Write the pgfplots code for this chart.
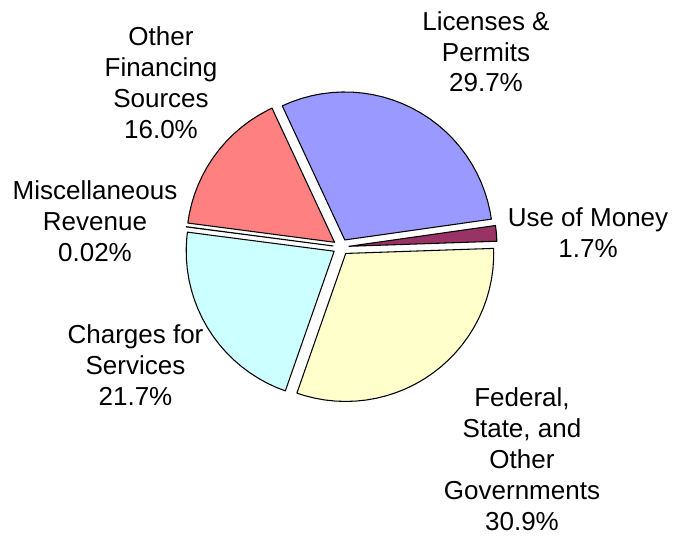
\documentclass[border=0pt]{standalone}
\usepackage{pgfplots}
\pgfplotsset{compat=1.18}
\usepackage{fontspec}
\setmainfont{Liberation Sans}
\definecolor{cLic}{HTML}{9999FF}
\definecolor{cUse}{HTML}{993366}
\definecolor{cFed}{HTML}{FFFFCC}
\definecolor{cChg}{HTML}{CCFFFF}
\definecolor{cMisc}{HTML}{660066}
\definecolor{cOth}{HTML}{FF8080}
\tikzset{lbl/.style={font=\fontsize{19.5}{23.2}\selectfont, align=center, anchor=base, inner sep=0pt}}
\begin{document}
\begin{tikzpicture}
\useasboundingbox (0,0) rectangle (505.5pt,405pt);
\begin{axis}[
  at={(0,0)}, anchor=south west,
  scale only axis, hide axis, clip=false,
  x=0.75pt, y=0.75pt,
  xmin=-341, xmax=333, ymin=-293, ymax=247,
  data cs=polar,
  every axis plot/.append style={draw=black, line width=0.8pt, line join=round},
]
% Licenses & Permits 29.7%
\addplot[fill=cLic, xshift={6pt*cos(61.54)}, yshift={6pt*sin(61.54)}] coordinates {
(0,0) (115,148) (111,148) (107,148) (103,148) (99,148) (95,148) (91,148) (87,148) (83,148) (79,148) (75,148) (71,148) (67,148) (63,148) (59,148) (55,148) (51,148) (47,148) (43,148) (39,148) (35,148) (31,148) (27,148) (23,148) (19,148) (15,148) (11,148) (8.08,148) (0,0)} -- cycle;
% Use of Money 1.7%
\addplot[fill=cUse, xshift={6pt*cos(5.02)}, yshift={6pt*sin(5.02)}] coordinates {
(0,0) (8.08,148) (5,148) (1.96,148) (0,0)} -- cycle;
% Federal, State, and Other Governments 30.9%
\addplot[fill=cFed, xshift={6pt*cos(-53.66)}, yshift={6pt*sin(-53.66)}] coordinates {
(0,0) (1.96,148) (-2,148) (-6,148) (-10,148) (-14,148) (-18,148) (-22,148) (-26,148) (-30,148) (-34,148) (-38,148) (-42,148) (-46,148) (-50,148) (-54,148) (-58,148) (-62,148) (-66,148) (-70,148) (-74,148) (-78,148) (-82,148) (-86,148) (-90,148) (-94,148) (-98,148) (-102,148) (-106,148) (-109.28,148) (0,0)} -- cycle;
% Charges for Services 21.7%
\addplot[fill=cChg, xshift={6pt*cos(-148.34)}, yshift={6pt*sin(-148.34)}] coordinates {
(0,0) (-109.28,148) (-113,148) (-117,148) (-121,148) (-125,148) (-129,148) (-133,148) (-137,148) (-141,148) (-145,148) (-149,148) (-153,148) (-157,148) (-161,148) (-165,148) (-169,148) (-173,148) (-177,148) (-181,148) (-185,148) (-187.4,148) (0,0)} -- cycle;
% Miscellaneous Revenue 0.02%
\addplot[fill=cMisc, xshift={6pt*cos(172.57)}, yshift={6pt*sin(172.57)}] coordinates {
(0,0) (172.6,148) (172.53,148) (0,0)} -- cycle;
% Other Financing Sources 16.0%
\addplot[fill=cOth, xshift={6pt*cos(143.77)}, yshift={6pt*sin(143.77)}] coordinates {
(0,0) (172.53,148) (169,148) (165,148) (161,148) (157,148) (153,148) (149,148) (145,148) (141,148) (137,148) (133,148) (129,148) (125,148) (121,148) (117,148) (115,148) (0,0)} -- cycle;
% labels: anchor=base is the baseline of the LAST line (axis units = px)
\node[lbl] at (axis cs:145,155) {Licenses \&\\Permits\\29.7\%};
\node[lbl] at (axis cs:247,-10.5) {Use of Money\\1.7\%};
\node[lbl] at (axis cs:181,-283) {Federal,\\State, and\\Other\\Governments\\30.9\%};
\node[lbl] at (axis cs:-205.5,-158) {Charges for\\Services\\21.7\%};
\node[lbl] at (axis cs:-246,-14.7) {Miscellaneous\\Revenue\\0.02\%};
\node[lbl] at (axis cs:-180,108.7) {Other\\Financing\\Sources\\16.0\%};
\end{axis}
\end{tikzpicture}
\end{document}
